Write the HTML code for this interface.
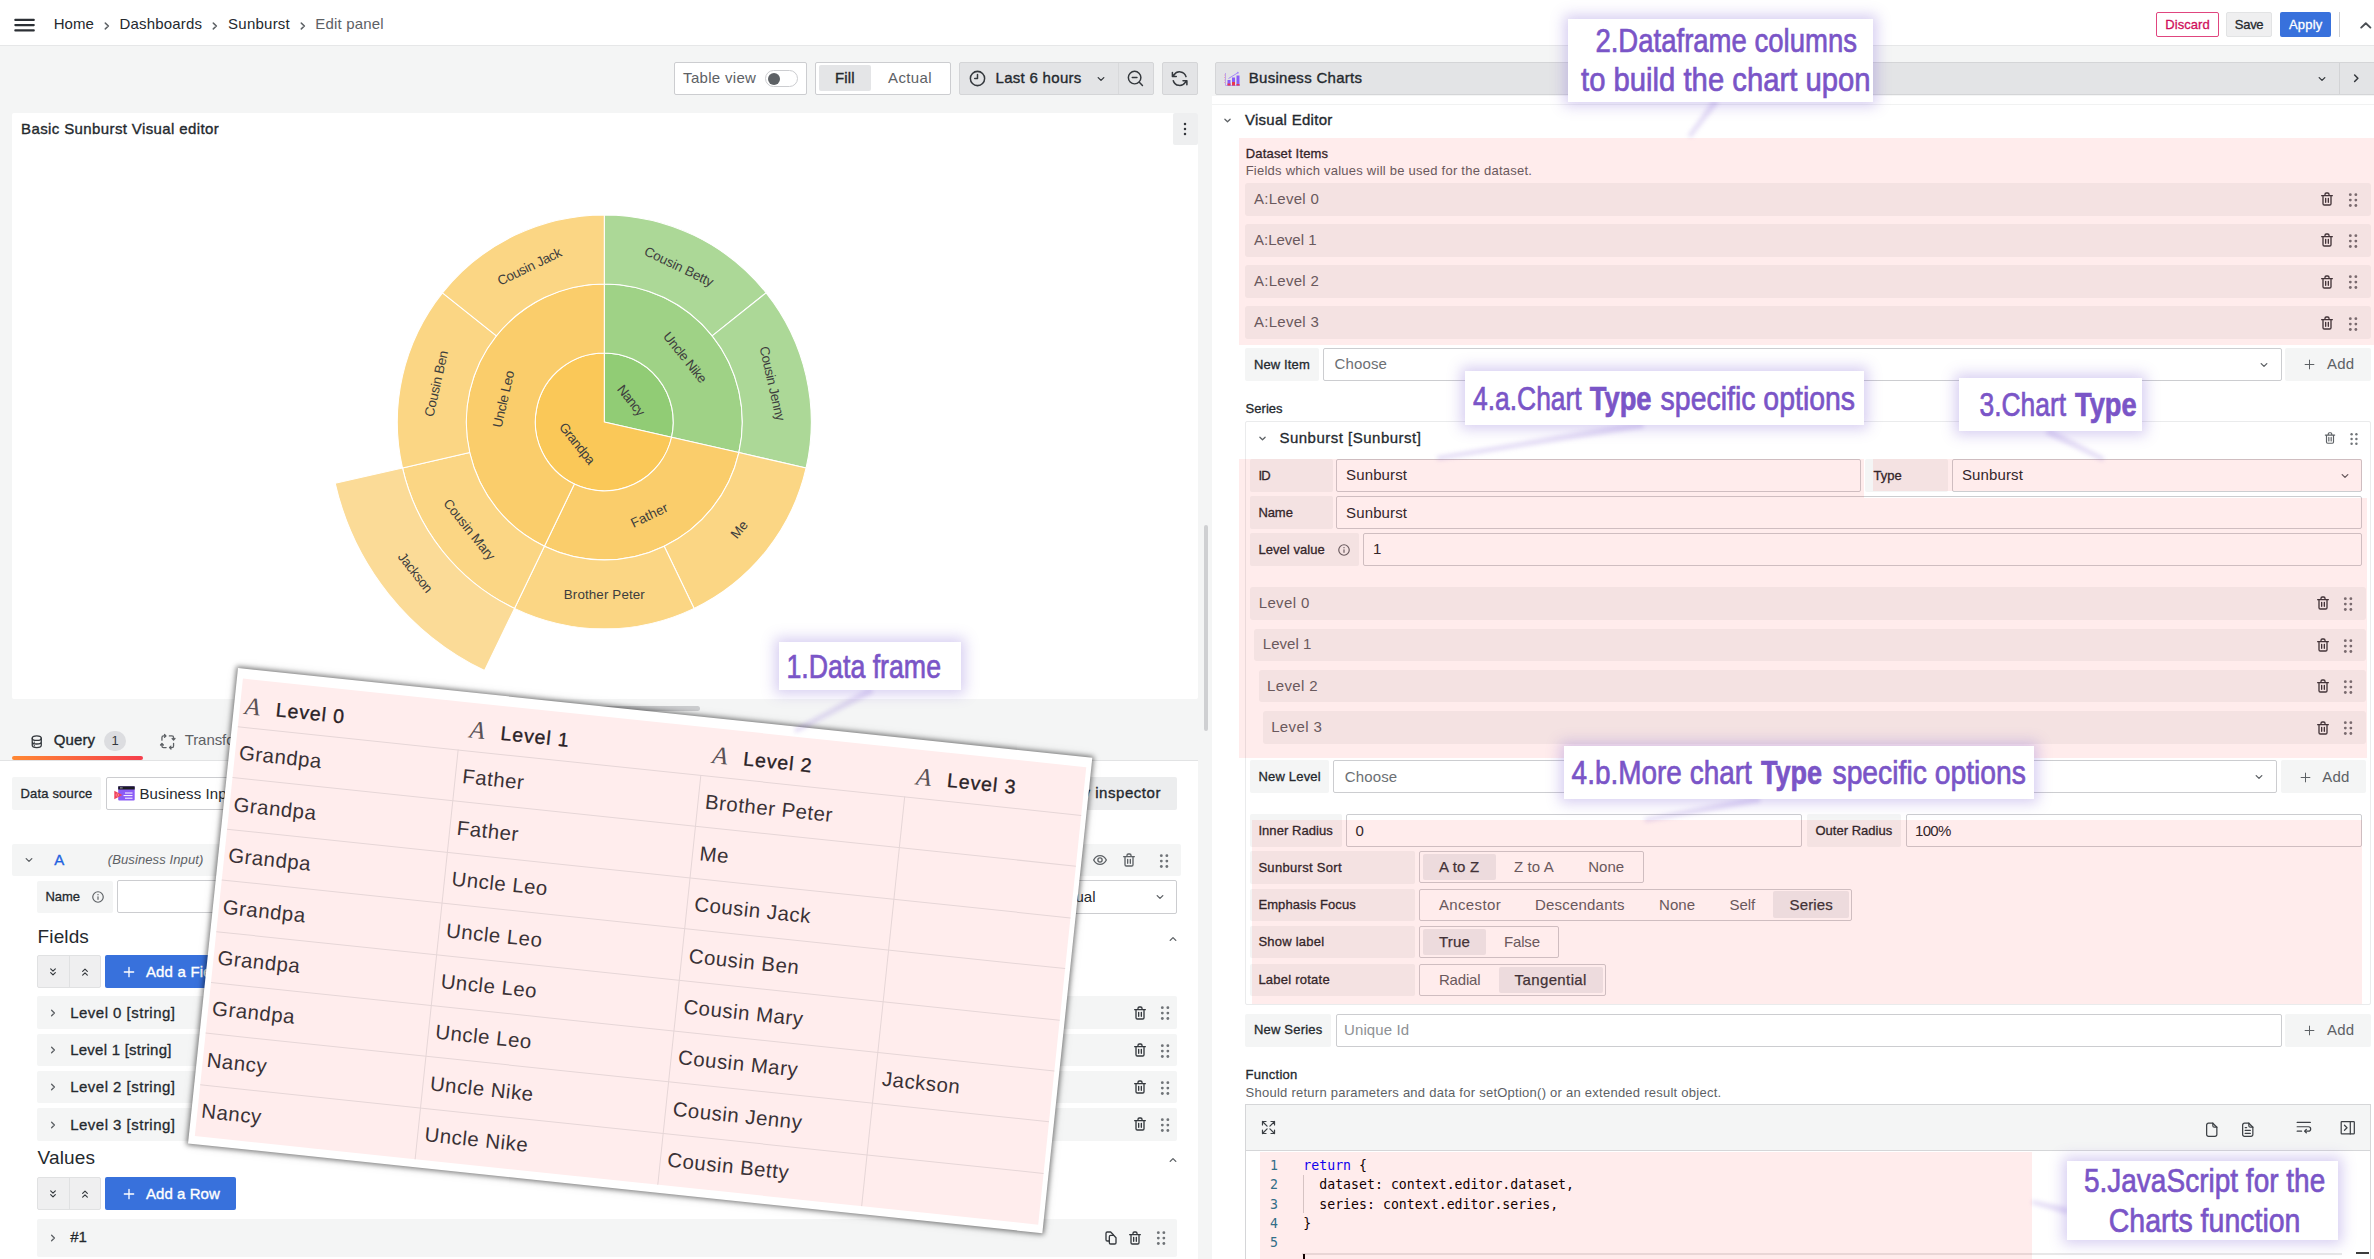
<!DOCTYPE html><html lang="en"><head><meta charset="utf-8"><title>Sunburst - Edit panel</title><style>html,body{margin:0;padding:0}
body{width:2374px;height:1259px;overflow:hidden;background:#f4f5f5;position:relative;font-family:"Liberation Sans",sans-serif;}
.b{position:absolute;box-sizing:border-box;display:block}
.t{position:absolute;white-space:nowrap;}
svg{overflow:visible}
</style></head><body>
<div class="b " style="left:0.00px;top:0.00px;width:2374.00px;height:45.00px;background:#fff;"></div>
<div class="b " style="left:0.00px;top:45.00px;width:2374.00px;height:1.00px;background:#e6e7e8;"></div>
<svg class="b" style="left:13.00px;top:17.00px;" width="22" height="16" viewBox="0 0 22 16"><path d="M2.300 2.900h18.500M2.300 8.100h18.500M2.300 13.400h18.500" stroke="#2c3035" stroke-width="2.100" stroke-linecap="round"/></svg>
<div class="t" style="left:53.70px;top:15.00px;font-size:15px;line-height:17px;color:#24292e;letter-spacing:0.047px;">Home</div>
<div class="t" style="left:119.60px;top:15.00px;font-size:15px;line-height:17px;color:#24292e;letter-spacing:0.172px;">Dashboards</div>
<div class="t" style="left:228.10px;top:15.00px;font-size:15px;line-height:17px;color:#24292e;letter-spacing:0.233px;">Sunburst</div>
<div class="t" style="left:315.30px;top:15.00px;font-size:15px;line-height:17px;color:#5d6165;letter-spacing:0.168px;">Edit panel</div>
<svg class="b" style="left:104.00px;top:22.20px;" width="6" height="8" viewBox="0 0 6 8"><path d="M1.300 1.100 4.400 4 1.300 6.900" fill="none" stroke="#5d6165" stroke-width="1.500" stroke-linecap="round" stroke-linejoin="round"/></svg>
<svg class="b" style="left:212.00px;top:22.20px;" width="6" height="8" viewBox="0 0 6 8"><path d="M1.300 1.100 4.400 4 1.300 6.900" fill="none" stroke="#5d6165" stroke-width="1.500" stroke-linecap="round" stroke-linejoin="round"/></svg>
<svg class="b" style="left:299.90px;top:22.20px;" width="6" height="8" viewBox="0 0 6 8"><path d="M1.300 1.100 4.400 4 1.300 6.900" fill="none" stroke="#5d6165" stroke-width="1.500" stroke-linecap="round" stroke-linejoin="round"/></svg>
<div class="b " style="left:2156.00px;top:12.20px;width:63.00px;height:24.40px;background:#fff;border:1px solid #e0457f;border-radius:2px;"></div>
<div class="t" style="left:2165.28px;top:17.00px;font-size:13px;line-height:15px;color:#cf0e5b;letter-spacing:0.062px;-webkit-text-stroke:0.3px #cf0e5b;">Discard</div>
<div class="b " style="left:2226.40px;top:12.20px;width:45.60px;height:24.40px;background:#efeff0;border:1px solid #e2e3e4;border-radius:2px;"></div>
<div class="t" style="left:2234.81px;top:17.00px;font-size:13px;line-height:15px;color:#24292e;letter-spacing:-0.283px;-webkit-text-stroke:0.3px #24292e;">Save</div>
<div class="b " style="left:2280.20px;top:12.20px;width:50.80px;height:24.40px;background:#3871dc;border-radius:2px;"></div>
<div class="t" style="left:2288.95px;top:17.00px;font-size:13px;line-height:15px;color:#fff;letter-spacing:0.196px;-webkit-text-stroke:0.3px #fff;">Apply</div>
<div class="b " style="left:2339.00px;top:12.20px;width:1.00px;height:24.40px;background:#cfd0d2;"></div>
<svg class="b" style="left:2358.00px;top:19.00px;" width="16" height="12" viewBox="0 0 16 12"><path d="M3.200 8.600 7.800 4.200 12.400 8.600" fill="none" stroke="#4a4e53" stroke-width="1.900" stroke-linecap="round" stroke-linejoin="round"/></svg>
<div class="b " style="left:674.20px;top:62.00px;width:132.50px;height:32.70px;background:#fff;border:1px solid #cccdd0;border-radius:2px;"></div>
<div class="t" style="left:683.10px;top:69.00px;font-size:15px;line-height:17px;color:#5d6165;letter-spacing:0.306px;">Table view</div>
<div class="b " style="left:765.40px;top:70.30px;width:33.00px;height:16.60px;background:#fff;border:1px solid #cccdd0;border-radius:9px;"></div>
<div class="b " style="left:767.60px;top:72.60px;width:12.00px;height:12.00px;background:#5d6165;border-radius:6px;"></div>
<div class="b " style="left:815.20px;top:62.00px;width:135.70px;height:32.70px;background:#fff;border:1px solid #cccdd0;border-radius:2px;"></div>
<div class="b " style="left:818.50px;top:65.30px;width:52.20px;height:26.20px;background:#e4e5e7;border-radius:2px;"></div>
<div class="t" style="left:835.05px;top:69.00px;font-size:15px;line-height:17px;color:#24292e;letter-spacing:0.110px;-webkit-text-stroke:0.35px #24292e;">Fill</div>
<div class="t" style="left:888.10px;top:69.00px;font-size:15px;line-height:17px;color:#5d6165;letter-spacing:0.335px;">Actual</div>
<div class="b " style="left:959.10px;top:62.00px;width:194.70px;height:32.70px;background:#e3e4e6;border:1px solid #d4d5d7;border-radius:2px;"></div>
<div class="b " style="left:1117.60px;top:63.00px;width:1.00px;height:30.70px;background:#d8d9db;"></div>
<svg class="b" style="left:967.70px;top:68.80px;" width="19" height="19" viewBox="0 0 24 24"><circle fill="none" stroke="#34383d" stroke-width="1.9" stroke-linecap="round" stroke-linejoin="round" cx="12" cy="12" r="9"/><path fill="none" stroke="#34383d" stroke-width="1.9" stroke-linecap="round" stroke-linejoin="round" d="M12 7v5H8.5"/></svg>
<div class="t" style="left:995.50px;top:69.00px;font-size:15px;line-height:17px;color:#24292e;letter-spacing:0.296px;-webkit-text-stroke:0.35px #24292e;">Last 6 hours</div>
<svg class="b" style="left:1092.70px;top:70.60px;" width="16" height="16" viewBox="0 0 24 24"><path fill="none" stroke="#34383d" stroke-width="2" stroke-linecap="round" stroke-linejoin="round" d="M7.8 9.9 L12 14.1 L16.2 9.9"/></svg>
<svg class="b" style="left:1125.80px;top:69.20px;" width="18.8" height="18.8" viewBox="0 0 24 24"><circle fill="none" stroke="#34383d" stroke-width="1.9" stroke-linecap="round" stroke-linejoin="round" cx="11" cy="11" r="8"/><path fill="none" stroke="#34383d" stroke-width="1.9" stroke-linecap="round" stroke-linejoin="round" d="M17 17l4 4M8 11h6"/></svg>
<div class="b " style="left:1162.00px;top:62.00px;width:36.30px;height:32.70px;background:#e3e4e6;border:1px solid #d4d5d7;border-radius:2px;"></div>
<svg class="b" style="left:1170.35px;top:68.95px;" width="19.3" height="19.3" viewBox="0 0 24 24"><path fill="none" stroke="#34383d" stroke-width="1.9" stroke-linecap="round" stroke-linejoin="round" d="M19.9 9.5A8.3 8.3 0 0 0 5 7.3L3.2 9.2M3 4.5v4.8h4.8M4.1 14.5A8.3 8.3 0 0 0 19 16.7l1.8-1.9M21 19.500v-4.8h-4.8"/></svg>
<div class="b " style="left:12.40px;top:112.60px;width:1185.40px;height:586.40px;background:#fff;border-radius:2px;"></div>
<div class="t" style="left:21.10px;top:120.00px;font-size:15px;line-height:17px;color:#24292e;letter-spacing:0.381px;-webkit-text-stroke:0.35px #24292e;">Basic Sunburst Visual editor</div>
<div class="b " style="left:1173.30px;top:112.60px;width:24.60px;height:32.00px;background:#eeeff0;border-radius:2px;"></div>
<svg class="b" style="left:1177.20px;top:121.00px;" width="16" height="16" viewBox="0 0 24 24"><circle fill="#34383d" cx="12" cy="4.5" r="1.9"/><circle fill="#34383d" cx="12" cy="12" r="1.9"/><circle fill="#34383d" cx="12" cy="19.5" r="1.9"/></svg>
<svg class="b" style="left:0;top:0" width="1200" height="700" viewBox="0 0 1200 700" font-family="Liberation Sans, sans-serif"><path d="M604.30 421.90L604.30 352.90A69 69 0 0 1 671.57 437.25Z" fill="#91cc75" stroke="#fff" stroke-width="1.050" stroke-linejoin="round"/><path d="M604.30 283.90A138 138 0 0 1 738.84 452.61L671.57 437.25A69 69 0 0 0 604.30 352.90Z" fill="#9fd286" stroke="#fff" stroke-width="1.050" stroke-linejoin="round"/><path d="M604.30 214.90A207 207 0 0 1 766.14 292.84L712.19 335.86A138 138 0 0 0 604.30 283.90Z" fill="#acd897" stroke="#fff" stroke-width="1.050" stroke-linejoin="round"/><path d="M766.14 292.84A207 207 0 0 1 806.11 467.96L738.84 452.61A138 138 0 0 0 712.19 335.86Z" fill="#acd897" stroke="#fff" stroke-width="1.050" stroke-linejoin="round"/><path d="M604.30 421.90L671.57 437.25A69 69 0 1 1 604.30 352.90Z" fill="#fac858" stroke="#fff" stroke-width="1.050" stroke-linejoin="round"/><path d="M738.84 452.61A138 138 0 0 1 544.42 546.23L574.36 484.07A69 69 0 0 0 671.57 437.25Z" fill="#facd6b" stroke="#fff" stroke-width="1.050" stroke-linejoin="round"/><path d="M806.11 467.96A207 207 0 0 1 694.11 608.40L664.18 546.23A138 138 0 0 0 738.84 452.61Z" fill="#fbd684" stroke="#fff" stroke-width="1.050" stroke-linejoin="round"/><path d="M694.11 608.40A207 207 0 0 1 514.49 608.40L544.42 546.23A138 138 0 0 0 664.18 546.23Z" fill="#fbd684" stroke="#fff" stroke-width="1.050" stroke-linejoin="round"/><path d="M544.42 546.23A138 138 0 0 1 604.30 283.90L604.30 352.90A69 69 0 0 0 574.36 484.07Z" fill="#facd6b" stroke="#fff" stroke-width="1.050" stroke-linejoin="round"/><path d="M514.49 608.40A207 207 0 0 1 402.49 467.96L469.76 452.61A138 138 0 0 0 544.42 546.23Z" fill="#fbd684" stroke="#fff" stroke-width="1.050" stroke-linejoin="round"/><path d="M484.55 670.57A276 276 0 0 1 335.22 483.32L402.49 467.96A207 207 0 0 0 514.49 608.40Z" fill="#fbdb97" stroke="#fff" stroke-width="1.050" stroke-linejoin="round"/><path d="M402.49 467.96A207 207 0 0 1 442.46 292.84L496.41 335.86A138 138 0 0 0 469.76 452.61Z" fill="#fbd684" stroke="#fff" stroke-width="1.050" stroke-linejoin="round"/><path d="M442.46 292.84A207 207 0 0 1 604.30 214.90L604.30 283.90A138 138 0 0 0 496.41 335.86Z" fill="#fbd684" stroke="#fff" stroke-width="1.050" stroke-linejoin="round"/><text x="631.27" y="400.39" transform="rotate(51.43 631.27 400.39)" text-anchor="middle" dy="0.350em" font-size="13.4" fill="#3d3d3d" textLength="35.5" lengthAdjust="spacing">Nancy</text><text x="685.22" y="357.37" transform="rotate(51.43 685.22 357.37)" text-anchor="middle" dy="0.350em" font-size="13.4" fill="#3d3d3d" textLength="61" lengthAdjust="spacing">Uncle Nike</text><text x="679.14" y="266.48" transform="rotate(25.71 679.14 266.48)" text-anchor="middle" dy="0.350em" font-size="13.4" fill="#3d3d3d" textLength="75" lengthAdjust="spacing">Cousin Betty</text><text x="772.48" y="383.52" transform="rotate(77.14 772.48 383.52)" text-anchor="middle" dy="0.350em" font-size="13.4" fill="#3d3d3d" textLength="76" lengthAdjust="spacing">Cousin Jenny</text><text x="577.33" y="443.41" transform="rotate(51.43 577.33 443.41)" text-anchor="middle" dy="0.350em" font-size="13.4" fill="#3d3d3d" textLength="49" lengthAdjust="spacing">Grandpa</text><text x="649.21" y="515.15" transform="rotate(-25.71 649.21 515.15)" text-anchor="middle" dy="0.350em" font-size="13.4" fill="#3d3d3d" textLength="39.5" lengthAdjust="spacing">Father</text><text x="739.17" y="529.45" transform="rotate(-51.43 739.17 529.45)" text-anchor="middle" dy="0.350em" font-size="13.4" fill="#3d3d3d" textLength="18.5" lengthAdjust="spacing">Me</text><text x="604.30" y="594.40" transform="rotate(0.00 604.30 594.40)" text-anchor="middle" dy="0.350em" font-size="13.4" fill="#3d3d3d" textLength="81" lengthAdjust="spacing">Brother Peter</text><text x="503.39" y="398.87" transform="rotate(-77.14 503.39 398.87)" text-anchor="middle" dy="0.350em" font-size="13.4" fill="#3d3d3d" textLength="58" lengthAdjust="spacing">Uncle Leo</text><text x="469.43" y="529.45" transform="rotate(51.43 469.43 529.45)" text-anchor="middle" dy="0.350em" font-size="13.4" fill="#3d3d3d" textLength="74" lengthAdjust="spacing">Cousin Mary</text><text x="415.49" y="572.47" transform="rotate(51.43 415.49 572.47)" text-anchor="middle" dy="0.350em" font-size="13.4" fill="#3d3d3d" textLength="47" lengthAdjust="spacing">Jackson</text><text x="436.12" y="383.52" transform="rotate(-77.14 436.12 383.52)" text-anchor="middle" dy="0.350em" font-size="13.4" fill="#3d3d3d" textLength="67.5" lengthAdjust="spacing">Cousin Ben</text><text x="529.46" y="266.48" transform="rotate(-25.71 529.46 266.48)" text-anchor="middle" dy="0.350em" font-size="13.4" fill="#3d3d3d" textLength="69.5" lengthAdjust="spacing">Cousin Jack</text></svg>
<div class="b " style="left:1203.60px;top:525.00px;width:4.20px;height:206.00px;background:#cfd0d2;border-radius:2px;"></div>
<div class="b " style="left:500.00px;top:705.80px;width:200.00px;height:4.80px;background:#cccdcf;border-radius:2.5px;"></div>
<div class="b " style="left:0.00px;top:761.00px;width:1197.60px;height:498.00px;background:#fff;"></div>
<div class="b " style="left:0.00px;top:760.30px;width:1197.60px;height:1.00px;background:#e2e3e4;"></div>
<svg class="b" style="left:29.25px;top:733.65px;" width="15.5" height="15.5" viewBox="0 0 24 24"><ellipse fill="none" stroke="#34383d" stroke-width="2" stroke-linecap="round" stroke-linejoin="round" cx="12" cy="6.5" rx="7" ry="3.5"/><path fill="none" stroke="#34383d" stroke-width="2" stroke-linecap="round" stroke-linejoin="round" d="M5 6.500v11c0 1.900 3.100 3.500 7 3.500s7-1.600 7-3.500v-11M5 12c0 1.900 3.100 3.500 7 3.500s7-1.600 7-3.500"/><path fill="none" stroke="#34383d" stroke-width="2" stroke-linecap="round" stroke-linejoin="round" d="M8.2 12.6v.1M8.200 18.100v.100"/></svg>
<div class="t" style="left:53.80px;top:731.00px;font-size:15px;line-height:17px;color:#24292e;letter-spacing:0.110px;-webkit-text-stroke:0.35px #24292e;">Query</div>
<div class="b " style="left:104.30px;top:731.30px;width:21.30px;height:19.40px;background:#dcdde0;border-radius:10px;"></div>
<div class="t" style="left:111.38px;top:733.00px;font-size:13px;line-height:15px;color:#34383d;">1</div>
<div class="b" style="left:12.1px;top:755.8px;width:130.5px;height:4.3px;border-radius:2.2px;background:linear-gradient(90deg,#ff8833,#f53e4c);"></div>
<svg class="b" style="left:159.55px;top:733.85px;" width="15.5" height="15.5" viewBox="0 0 24 24"><path fill="none" stroke="#5d6165" stroke-width="2" stroke-linecap="round" stroke-linejoin="round" d="M3 9.500V5.500Q3 3 5.500 3H9M7 .800 9.200 3 7 5.200M14.500 3h4Q21 3 21 5.500V9M18.800 7 21 9.200 23.200 7M21 14.500v4Q21 21 18.500 21H15M17 18.800 14.800 21 17 23.200M9.500 21h-4Q3 21 3 18.500V15M.800 17 3 14.800 5.200 17"/></svg>
<div class="t" style="left:184.70px;top:731.00px;font-size:15px;line-height:17px;color:#5d6165;letter-spacing:-0.082px;">Transform data</div>
<div class="b " style="left:12.10px;top:777.30px;width:88.70px;height:32.50px;background:#f4f5f5;border-radius:2px;"></div>
<div class="t" style="left:20.50px;top:786.00px;font-size:13px;line-height:15px;color:#24292e;letter-spacing:0.173px;-webkit-text-stroke:0.3px #24292e;">Data source</div>
<div class="b " style="left:105.70px;top:777.30px;width:290.00px;height:32.50px;background:#fff;border:1px solid #cccdd0;border-radius:2px;"></div>
<svg class="b" style="left:113.500px;top:786.400px" width="21" height="15" viewBox="0 0 21 15"><rect x="4.200" y="0.300" width="16.500" height="14.200" rx="1" fill="#8b5cf6"/><rect x="4.200" y="0.300" width="16.500" height="3.200" fill="#1c1c24"/><path d="M6 1.900h3" stroke="#fff" stroke-width=".8" stroke-dasharray=".8 .5"/><path d="M11 7h7.500M9.500 9.600h9M11 12.200h7.500" stroke="#fff" stroke-width="1"/><path d="M0.300 4.800 8.300 8.900 0.300 13.300Z" fill="#f0415a"/><circle cx="3.300" cy="9" r="1.300" fill="none" stroke="#ffb3bf" stroke-width=".5"/></svg>
<div class="t" style="left:139.50px;top:785.00px;font-size:15px;line-height:17px;color:#24292e;letter-spacing:0.115px;">Business Input</div>
<div class="b " style="left:1016.00px;top:777.30px;width:160.60px;height:32.50px;background:#ecedee;border-radius:2px;"></div>
<div class="t" style="left:1046.94px;top:784.00px;font-size:15px;line-height:17px;color:#24292e;letter-spacing:0.541px;-webkit-text-stroke:0.35px #24292e;">Query inspector</div>
<div class="b " style="left:12.10px;top:843.90px;width:1169.00px;height:32.00px;background:#f4f5f5;border-radius:2px;"></div>
<svg class="b" style="left:20.80px;top:851.90px;" width="16" height="16" viewBox="0 0 24 24"><path fill="none" stroke="#5d6165" stroke-width="2" stroke-linecap="round" stroke-linejoin="round" d="M7.8 9.9 L12 14.1 L16.2 9.9"/></svg>
<div class="t" style="left:54.30px;top:851.00px;font-size:15px;line-height:17px;color:#1f62e0;-webkit-text-stroke:0.35px #1f62e0;">A</div>
<div class="t" style="left:107.70px;top:852.00px;font-size:13px;line-height:15px;color:#5d6165;letter-spacing:0.117px;font-style:italic;">(Business Input)</div>
<svg class="b" style="left:1092.40px;top:851.80px;" width="16" height="16" viewBox="0 0 24 24"><path fill="none" stroke="#5d6165" stroke-width="2" stroke-linecap="round" stroke-linejoin="round" d="M2.500 12C4.500 8 8 5.500 12 5.500S19.500 8 21.500 12c-2 4-5.500 6.500-9.500 6.500S4.500 16 2.500 12Z"/><circle fill="none" stroke="#5d6165" stroke-width="2" stroke-linecap="round" stroke-linejoin="round" cx="12" cy="12" r="3.2"/></svg>
<svg class="b" style="left:1121.30px;top:851.80px;" width="16" height="16" viewBox="0 0 24 24"><path fill="#5d6165" d="M10,18a1,1,0,0,0,1-1V11a1,1,0,0,0-2,0v6A1,1,0,0,0,10,18ZM20,6H16V5a3,3,0,0,0-3-3H11A3,3,0,0,0,8,5V6H4A1,1,0,0,0,4,8H5V19a3,3,0,0,0,3,3h8a3,3,0,0,0,3-3V8h1a1,1,0,0,0,0-2ZM10,5a1,1,0,0,1,1-1h2a1,1,0,0,1,1,1V6H10Zm7,14a1,1,0,0,1-1,1H8a1,1,0,0,1-1-1V8H17Zm-3-1a1,1,0,0,0,1-1V11a1,1,0,0,0-2,0v6A1,1,0,0,0,14,18Z"/></svg>
<svg class="b" style="left:1155.80px;top:852.90px;" width="16.2" height="16.2" viewBox="0 0 24 24"><circle fill="#6f7377" cx="7.9" cy="4" r="2.1"/><circle fill="#6f7377" cx="7.9" cy="12" r="2.1"/><circle fill="#6f7377" cx="7.9" cy="20" r="2.1"/><circle fill="#6f7377" cx="16.1" cy="4" r="2.1"/><circle fill="#6f7377" cx="16.1" cy="12" r="2.1"/><circle fill="#6f7377" cx="16.1" cy="20" r="2.1"/></svg>
<div class="b " style="left:37.20px;top:880.60px;width:75.80px;height:32.60px;background:#f4f5f5;border-radius:2px;"></div>
<div class="t" style="left:45.50px;top:889.00px;font-size:13px;line-height:15px;color:#24292e;letter-spacing:-0.070px;-webkit-text-stroke:0.3px #24292e;">Name</div>
<svg class="b" style="left:90.80px;top:890.30px;" width="14" height="14" viewBox="0 0 24 24"><circle fill="none" stroke="#5d6165" stroke-width="2" stroke-linecap="round" stroke-linejoin="round" cx="12" cy="12" r="9"/><path fill="none" stroke="#5d6165" stroke-width="2" stroke-linecap="round" stroke-linejoin="round" d="M12 11.500v4.500"/><circle fill="#5d6165" cx="12" cy="8" r="1.200"/></svg>
<div class="b " style="left:117.20px;top:880.40px;width:400.00px;height:33.00px;background:#fff;border:1px solid #cccdd0;border-radius:2px;"></div>
<div class="b " style="left:900.00px;top:880.20px;width:276.60px;height:33.50px;background:#fff;border:1px solid #cccdd0;border-radius:2px;"></div>
<div class="t" style="left:1046.30px;top:888.00px;font-size:15px;line-height:17px;color:#24292e;">Manual</div>
<svg class="b" style="left:1152.40px;top:889.30px;" width="16" height="16" viewBox="0 0 24 24"><path fill="none" stroke="#5d6165" stroke-width="2" stroke-linecap="round" stroke-linejoin="round" d="M7.8 9.9 L12 14.1 L16.2 9.9"/></svg>
<div class="t" style="left:37.60px;top:926.00px;font-size:19px;line-height:21px;color:#24292e;letter-spacing:0.119px;">Fields</div>
<svg class="b" style="left:1164.50px;top:930.70px;" width="16" height="16" viewBox="0 0 24 24"><path fill="none" stroke="#5d6165" stroke-width="2" stroke-linecap="round" stroke-linejoin="round" d="M7.8 14.1 L12 9.9 L16.2 14.1"/></svg>
<div class="b " style="left:37.20px;top:955.20px;width:63.60px;height:32.50px;background:#efeff0;border:1px solid #e0e1e2;border-radius:2px;"></div>
<div class="b " style="left:69.20px;top:955.20px;width:1.00px;height:32.50px;background:#e0e1e2;"></div>
<svg class="b" style="left:46.40px;top:964.60px;" width="14" height="14" viewBox="0 0 24 24"><path fill="none" stroke="#34383d" stroke-width="2" stroke-linecap="round" stroke-linejoin="round" d="M8 6.500l4 4 4-4M8 13l4 4 4-4"/></svg>
<svg class="b" style="left:77.50px;top:964.60px;" width="14" height="14" viewBox="0 0 24 24"><path fill="none" stroke="#34383d" stroke-width="2" stroke-linecap="round" stroke-linejoin="round" d="M8 11l4-4 4 4M8 17.500l4-4 4 4"/></svg>
<div class="b " style="left:105.10px;top:955.20px;width:131.20px;height:32.50px;background:#3871dc;border-radius:2px;"></div>
<svg class="b" style="left:120.60px;top:963.50px;" width="16" height="16" viewBox="0 0 24 24"><path fill="none" stroke="#fff" stroke-width="2" stroke-linecap="round" stroke-linejoin="round" d="M12 5v14M5 12h14"/></svg>
<div class="t" style="left:145.90px;top:963.00px;font-size:15px;line-height:17px;color:#fff;letter-spacing:0.193px;-webkit-text-stroke:0.35px #fff;">Add a Field</div>
<div class="b " style="left:37.20px;top:996.30px;width:1139.50px;height:32.60px;background:#f4f5f5;border-radius:2px;"></div>
<svg class="b" style="left:45.20px;top:1004.90px;" width="16" height="16" viewBox="0 0 24 24"><path fill="none" stroke="#5d6165" stroke-width="2" stroke-linecap="round" stroke-linejoin="round" d="M9.9 7.8 L14.1 12 L9.9 16.2"/></svg>
<div class="t" style="left:70.20px;top:1004.00px;font-size:15px;line-height:17px;color:#24292e;letter-spacing:0.484px;-webkit-text-stroke:0.3px #24292e;">Level 0 [string]</div>
<svg class="b" style="left:1132.10px;top:1004.70px;" width="16" height="16" viewBox="0 0 24 24"><path fill="#34383d" d="M10,18a1,1,0,0,0,1-1V11a1,1,0,0,0-2,0v6A1,1,0,0,0,10,18ZM20,6H16V5a3,3,0,0,0-3-3H11A3,3,0,0,0,8,5V6H4A1,1,0,0,0,4,8H5V19a3,3,0,0,0,3,3h8a3,3,0,0,0,3-3V8h1a1,1,0,0,0,0-2ZM10,5a1,1,0,0,1,1-1h2a1,1,0,0,1,1,1V6H10Zm7,14a1,1,0,0,1-1,1H8a1,1,0,0,1-1-1V8H17Zm-3-1a1,1,0,0,0,1-1V11a1,1,0,0,0-2,0v6A1,1,0,0,0,14,18Z"/></svg>
<svg class="b" style="left:1156.50px;top:1005.30px;" width="16.2" height="16.2" viewBox="0 0 24 24"><circle fill="#6f7377" cx="7.9" cy="4" r="2.1"/><circle fill="#6f7377" cx="7.9" cy="12" r="2.1"/><circle fill="#6f7377" cx="7.9" cy="20" r="2.1"/><circle fill="#6f7377" cx="16.1" cy="4" r="2.1"/><circle fill="#6f7377" cx="16.1" cy="12" r="2.1"/><circle fill="#6f7377" cx="16.1" cy="20" r="2.1"/></svg>
<div class="b " style="left:37.20px;top:1033.53px;width:1139.50px;height:32.60px;background:#f4f5f5;border-radius:2px;"></div>
<svg class="b" style="left:45.20px;top:1042.13px;" width="16" height="16" viewBox="0 0 24 24"><path fill="none" stroke="#5d6165" stroke-width="2" stroke-linecap="round" stroke-linejoin="round" d="M9.9 7.8 L14.1 12 L9.9 16.2"/></svg>
<div class="t" style="left:70.20px;top:1041.00px;font-size:15px;line-height:17px;color:#24292e;letter-spacing:0.247px;-webkit-text-stroke:0.3px #24292e;">Level 1 [string]</div>
<svg class="b" style="left:1132.10px;top:1041.93px;" width="16" height="16" viewBox="0 0 24 24"><path fill="#34383d" d="M10,18a1,1,0,0,0,1-1V11a1,1,0,0,0-2,0v6A1,1,0,0,0,10,18ZM20,6H16V5a3,3,0,0,0-3-3H11A3,3,0,0,0,8,5V6H4A1,1,0,0,0,4,8H5V19a3,3,0,0,0,3,3h8a3,3,0,0,0,3-3V8h1a1,1,0,0,0,0-2ZM10,5a1,1,0,0,1,1-1h2a1,1,0,0,1,1,1V6H10Zm7,14a1,1,0,0,1-1,1H8a1,1,0,0,1-1-1V8H17Zm-3-1a1,1,0,0,0,1-1V11a1,1,0,0,0-2,0v6A1,1,0,0,0,14,18Z"/></svg>
<svg class="b" style="left:1156.50px;top:1042.53px;" width="16.2" height="16.2" viewBox="0 0 24 24"><circle fill="#6f7377" cx="7.9" cy="4" r="2.1"/><circle fill="#6f7377" cx="7.9" cy="12" r="2.1"/><circle fill="#6f7377" cx="7.9" cy="20" r="2.1"/><circle fill="#6f7377" cx="16.1" cy="4" r="2.1"/><circle fill="#6f7377" cx="16.1" cy="12" r="2.1"/><circle fill="#6f7377" cx="16.1" cy="20" r="2.1"/></svg>
<div class="b " style="left:37.20px;top:1070.76px;width:1139.50px;height:32.60px;background:#f4f5f5;border-radius:2px;"></div>
<svg class="b" style="left:45.20px;top:1079.36px;" width="16" height="16" viewBox="0 0 24 24"><path fill="none" stroke="#5d6165" stroke-width="2" stroke-linecap="round" stroke-linejoin="round" d="M9.9 7.8 L14.1 12 L9.9 16.2"/></svg>
<div class="t" style="left:70.20px;top:1078.00px;font-size:15px;line-height:17px;color:#24292e;letter-spacing:0.484px;-webkit-text-stroke:0.3px #24292e;">Level 2 [string]</div>
<svg class="b" style="left:1132.10px;top:1079.16px;" width="16" height="16" viewBox="0 0 24 24"><path fill="#34383d" d="M10,18a1,1,0,0,0,1-1V11a1,1,0,0,0-2,0v6A1,1,0,0,0,10,18ZM20,6H16V5a3,3,0,0,0-3-3H11A3,3,0,0,0,8,5V6H4A1,1,0,0,0,4,8H5V19a3,3,0,0,0,3,3h8a3,3,0,0,0,3-3V8h1a1,1,0,0,0,0-2ZM10,5a1,1,0,0,1,1-1h2a1,1,0,0,1,1,1V6H10Zm7,14a1,1,0,0,1-1,1H8a1,1,0,0,1-1-1V8H17Zm-3-1a1,1,0,0,0,1-1V11a1,1,0,0,0-2,0v6A1,1,0,0,0,14,18Z"/></svg>
<svg class="b" style="left:1156.50px;top:1079.76px;" width="16.2" height="16.2" viewBox="0 0 24 24"><circle fill="#6f7377" cx="7.9" cy="4" r="2.1"/><circle fill="#6f7377" cx="7.9" cy="12" r="2.1"/><circle fill="#6f7377" cx="7.9" cy="20" r="2.1"/><circle fill="#6f7377" cx="16.1" cy="4" r="2.1"/><circle fill="#6f7377" cx="16.1" cy="12" r="2.1"/><circle fill="#6f7377" cx="16.1" cy="20" r="2.1"/></svg>
<div class="b " style="left:37.20px;top:1107.99px;width:1139.50px;height:32.60px;background:#f4f5f5;border-radius:2px;"></div>
<svg class="b" style="left:45.20px;top:1116.59px;" width="16" height="16" viewBox="0 0 24 24"><path fill="none" stroke="#5d6165" stroke-width="2" stroke-linecap="round" stroke-linejoin="round" d="M9.9 7.8 L14.1 12 L9.9 16.2"/></svg>
<div class="t" style="left:70.20px;top:1116.00px;font-size:15px;line-height:17px;color:#24292e;letter-spacing:0.484px;-webkit-text-stroke:0.3px #24292e;">Level 3 [string]</div>
<svg class="b" style="left:1132.10px;top:1116.39px;" width="16" height="16" viewBox="0 0 24 24"><path fill="#34383d" d="M10,18a1,1,0,0,0,1-1V11a1,1,0,0,0-2,0v6A1,1,0,0,0,10,18ZM20,6H16V5a3,3,0,0,0-3-3H11A3,3,0,0,0,8,5V6H4A1,1,0,0,0,4,8H5V19a3,3,0,0,0,3,3h8a3,3,0,0,0,3-3V8h1a1,1,0,0,0,0-2ZM10,5a1,1,0,0,1,1-1h2a1,1,0,0,1,1,1V6H10Zm7,14a1,1,0,0,1-1,1H8a1,1,0,0,1-1-1V8H17Zm-3-1a1,1,0,0,0,1-1V11a1,1,0,0,0-2,0v6A1,1,0,0,0,14,18Z"/></svg>
<svg class="b" style="left:1156.50px;top:1116.99px;" width="16.2" height="16.2" viewBox="0 0 24 24"><circle fill="#6f7377" cx="7.9" cy="4" r="2.1"/><circle fill="#6f7377" cx="7.9" cy="12" r="2.1"/><circle fill="#6f7377" cx="7.9" cy="20" r="2.1"/><circle fill="#6f7377" cx="16.1" cy="4" r="2.1"/><circle fill="#6f7377" cx="16.1" cy="12" r="2.1"/><circle fill="#6f7377" cx="16.1" cy="20" r="2.1"/></svg>
<div class="t" style="left:37.60px;top:1147.00px;font-size:19px;line-height:21px;color:#24292e;letter-spacing:0.152px;">Values</div>
<svg class="b" style="left:1164.50px;top:1152.20px;" width="16" height="16" viewBox="0 0 24 24"><path fill="none" stroke="#5d6165" stroke-width="2" stroke-linecap="round" stroke-linejoin="round" d="M7.8 14.1 L12 9.9 L16.2 14.1"/></svg>
<div class="b " style="left:37.20px;top:1177.30px;width:63.60px;height:32.50px;background:#efeff0;border:1px solid #e0e1e2;border-radius:2px;"></div>
<div class="b " style="left:69.20px;top:1177.30px;width:1.00px;height:32.50px;background:#e0e1e2;"></div>
<svg class="b" style="left:46.40px;top:1186.70px;" width="14" height="14" viewBox="0 0 24 24"><path fill="none" stroke="#34383d" stroke-width="2" stroke-linecap="round" stroke-linejoin="round" d="M8 6.500l4 4 4-4M8 13l4 4 4-4"/></svg>
<svg class="b" style="left:77.50px;top:1186.70px;" width="14" height="14" viewBox="0 0 24 24"><path fill="none" stroke="#34383d" stroke-width="2" stroke-linecap="round" stroke-linejoin="round" d="M8 11l4-4 4 4M8 17.500l4-4 4 4"/></svg>
<div class="b " style="left:105.10px;top:1177.30px;width:131.20px;height:32.50px;background:#3871dc;border-radius:2px;"></div>
<svg class="b" style="left:120.60px;top:1185.60px;" width="16" height="16" viewBox="0 0 24 24"><path fill="none" stroke="#fff" stroke-width="2" stroke-linecap="round" stroke-linejoin="round" d="M12 5v14M5 12h14"/></svg>
<div class="t" style="left:145.90px;top:1185.00px;font-size:15px;line-height:17px;color:#fff;letter-spacing:0.069px;-webkit-text-stroke:0.35px #fff;">Add a Row</div>
<div class="b " style="left:37.20px;top:1218.70px;width:1139.50px;height:38.50px;background:#f4f5f5;border-radius:2px;"></div>
<svg class="b" style="left:45.20px;top:1230.00px;" width="16" height="16" viewBox="0 0 24 24"><path fill="none" stroke="#5d6165" stroke-width="2" stroke-linecap="round" stroke-linejoin="round" d="M9.9 7.8 L14.1 12 L9.9 16.2"/></svg>
<div class="t" style="left:70.20px;top:1228.00px;font-size:15px;line-height:17px;color:#24292e;-webkit-text-stroke:0.3px #24292e;">#1</div>
<svg class="b" style="left:1102.60px;top:1229.70px;" width="16" height="16" viewBox="0 0 24 24"><path fill="none" stroke="#34383d" stroke-width="2" stroke-linecap="round" stroke-linejoin="round" d="M9 16.500H6.500a2 2 0 0 1-2-2V5a2 2 0 0 1 2-2h5l4 4v1"/><path fill="none" stroke="#34383d" stroke-width="2" stroke-linecap="round" stroke-linejoin="round" d="M11.500 8h4.500l3.500 3.500V19a2 2 0 0 1-2 2h-6a2 2 0 0 1-2-2v-9a2 2 0 0 1 2-2Z"/></svg>
<svg class="b" style="left:1127.40px;top:1229.70px;" width="16" height="16" viewBox="0 0 24 24"><path fill="#34383d" d="M10,18a1,1,0,0,0,1-1V11a1,1,0,0,0-2,0v6A1,1,0,0,0,10,18ZM20,6H16V5a3,3,0,0,0-3-3H11A3,3,0,0,0,8,5V6H4A1,1,0,0,0,4,8H5V19a3,3,0,0,0,3,3h8a3,3,0,0,0,3-3V8h1a1,1,0,0,0,0-2ZM10,5a1,1,0,0,1,1-1h2a1,1,0,0,1,1,1V6H10Zm7,14a1,1,0,0,1-1,1H8a1,1,0,0,1-1-1V8H17Zm-3-1a1,1,0,0,0,1-1V11a1,1,0,0,0-2,0v6A1,1,0,0,0,14,18Z"/></svg>
<svg class="b" style="left:1152.60px;top:1230.30px;" width="16.2" height="16.2" viewBox="0 0 24 24"><circle fill="#6f7377" cx="7.9" cy="4" r="2.1"/><circle fill="#6f7377" cx="7.9" cy="12" r="2.1"/><circle fill="#6f7377" cx="7.9" cy="20" r="2.1"/><circle fill="#6f7377" cx="16.1" cy="4" r="2.1"/><circle fill="#6f7377" cx="16.1" cy="12" r="2.1"/><circle fill="#6f7377" cx="16.1" cy="20" r="2.1"/></svg>
<div class="b" style="left:238.1px;top:668.4px;width:858.5px;height:477.5px;background:#fff;transform-origin:0 0;transform:rotate(6deg);box-shadow:0 0 5px 1.500px rgba(0,0,0,.48),0 0 12px rgba(0,0,0,.12);">
<div class="b" style="left:5.500px;top:10.300px;width:848.0px;height:459.7px;background:#ffeded;">
<div class="b" style="left:0;top:47.65px;width:848.0px;height:1px;background:#e6d6d7;"></div>
<div class="b" style="left:0;top:99.07px;width:848.0px;height:1px;background:#e6d6d7;"></div>
<div class="b" style="left:0;top:150.49px;width:848.0px;height:1px;background:#e6d6d7;"></div>
<div class="b" style="left:0;top:201.91px;width:848.0px;height:1px;background:#e6d6d7;"></div>
<div class="b" style="left:0;top:253.33px;width:848.0px;height:1px;background:#e6d6d7;"></div>
<div class="b" style="left:0;top:304.75px;width:848.0px;height:1px;background:#e6d6d7;"></div>
<div class="b" style="left:0;top:356.17px;width:848.0px;height:1px;background:#e6d6d7;"></div>
<div class="b" style="left:0;top:407.59px;width:848.0px;height:1px;background:#e6d6d7;"></div>
<div class="b" style="left:221.00px;top:47.65px;width:1px;height:412.05px;background:#e6d6d7;"></div>
<div class="b" style="left:465.10px;top:47.65px;width:1px;height:412.05px;background:#e6d6d7;"></div>
<div class="b" style="left:670.00px;top:47.65px;width:1px;height:412.05px;background:#e6d6d7;"></div>
<div class="t" style="left:5.50px;top:12.30px;font-family:'Liberation Serif',serif;font-style:italic;font-size:25px;line-height:27px;color:#5a5256;">A</div>
<div class="t" style="left:36.50px;top:15.90px;font-size:19.500px;line-height:22px;color:#2a2226;-webkit-text-stroke:0.350px #2a2226;letter-spacing:0.950px;">Level 0</div>
<div class="t" style="left:231.50px;top:12.30px;font-family:'Liberation Serif',serif;font-style:italic;font-size:25px;line-height:27px;color:#5a5256;">A</div>
<div class="t" style="left:262.50px;top:15.90px;font-size:19.500px;line-height:22px;color:#2a2226;-webkit-text-stroke:0.350px #2a2226;letter-spacing:0.950px;">Level 1</div>
<div class="t" style="left:475.60px;top:12.30px;font-family:'Liberation Serif',serif;font-style:italic;font-size:25px;line-height:27px;color:#5a5256;">A</div>
<div class="t" style="left:506.60px;top:15.90px;font-size:19.500px;line-height:22px;color:#2a2226;-webkit-text-stroke:0.350px #2a2226;letter-spacing:0.950px;">Level 2</div>
<div class="t" style="left:680.50px;top:12.30px;font-family:'Liberation Serif',serif;font-style:italic;font-size:25px;line-height:27px;color:#5a5256;">A</div>
<div class="t" style="left:711.50px;top:15.90px;font-size:19.500px;line-height:22px;color:#2a2226;-webkit-text-stroke:0.350px #2a2226;letter-spacing:0.950px;">Level 3</div>
<div class="t" style="left:4.50px;top:62.95px;font-size:20.400px;line-height:22px;color:#3a3236;letter-spacing:0.550px;">Grandpa</div>
<div class="t" style="left:229.00px;top:62.95px;font-size:20.400px;line-height:22px;color:#3a3236;letter-spacing:0.550px;">Father</div>
<div class="t" style="left:473.10px;top:62.95px;font-size:20.400px;line-height:22px;color:#3a3236;letter-spacing:0.550px;">Brother Peter</div>
<div class="t" style="left:4.50px;top:114.37px;font-size:20.400px;line-height:22px;color:#3a3236;letter-spacing:0.550px;">Grandpa</div>
<div class="t" style="left:229.00px;top:114.37px;font-size:20.400px;line-height:22px;color:#3a3236;letter-spacing:0.550px;">Father</div>
<div class="t" style="left:473.10px;top:114.37px;font-size:20.400px;line-height:22px;color:#3a3236;letter-spacing:0.550px;">Me</div>
<div class="t" style="left:4.50px;top:165.79px;font-size:20.400px;line-height:22px;color:#3a3236;letter-spacing:0.550px;">Grandpa</div>
<div class="t" style="left:229.00px;top:165.79px;font-size:20.400px;line-height:22px;color:#3a3236;letter-spacing:0.550px;">Uncle Leo</div>
<div class="t" style="left:473.10px;top:165.79px;font-size:20.400px;line-height:22px;color:#3a3236;letter-spacing:0.550px;">Cousin Jack</div>
<div class="t" style="left:4.50px;top:217.21px;font-size:20.400px;line-height:22px;color:#3a3236;letter-spacing:0.550px;">Grandpa</div>
<div class="t" style="left:229.00px;top:217.21px;font-size:20.400px;line-height:22px;color:#3a3236;letter-spacing:0.550px;">Uncle Leo</div>
<div class="t" style="left:473.10px;top:217.21px;font-size:20.400px;line-height:22px;color:#3a3236;letter-spacing:0.550px;">Cousin Ben</div>
<div class="t" style="left:4.50px;top:268.63px;font-size:20.400px;line-height:22px;color:#3a3236;letter-spacing:0.550px;">Grandpa</div>
<div class="t" style="left:229.00px;top:268.63px;font-size:20.400px;line-height:22px;color:#3a3236;letter-spacing:0.550px;">Uncle Leo</div>
<div class="t" style="left:473.10px;top:268.63px;font-size:20.400px;line-height:22px;color:#3a3236;letter-spacing:0.550px;">Cousin Mary</div>
<div class="t" style="left:4.50px;top:320.05px;font-size:20.400px;line-height:22px;color:#3a3236;letter-spacing:0.550px;">Grandpa</div>
<div class="t" style="left:229.00px;top:320.05px;font-size:20.400px;line-height:22px;color:#3a3236;letter-spacing:0.550px;">Uncle Leo</div>
<div class="t" style="left:473.10px;top:320.05px;font-size:20.400px;line-height:22px;color:#3a3236;letter-spacing:0.550px;">Cousin Mary</div>
<div class="t" style="left:678.00px;top:320.05px;font-size:20.400px;line-height:22px;color:#3a3236;letter-spacing:0.550px;">Jackson</div>
<div class="t" style="left:4.50px;top:371.47px;font-size:20.400px;line-height:22px;color:#3a3236;letter-spacing:0.550px;">Nancy</div>
<div class="t" style="left:229.00px;top:371.47px;font-size:20.400px;line-height:22px;color:#3a3236;letter-spacing:0.550px;">Uncle Nike</div>
<div class="t" style="left:473.10px;top:371.47px;font-size:20.400px;line-height:22px;color:#3a3236;letter-spacing:0.550px;">Cousin Jenny</div>
<div class="t" style="left:4.50px;top:422.89px;font-size:20.400px;line-height:22px;color:#3a3236;letter-spacing:0.550px;">Nancy</div>
<div class="t" style="left:229.00px;top:422.89px;font-size:20.400px;line-height:22px;color:#3a3236;letter-spacing:0.550px;">Uncle Nike</div>
<div class="t" style="left:473.10px;top:422.89px;font-size:20.400px;line-height:22px;color:#3a3236;letter-spacing:0.550px;">Cousin Betty</div></div></div>
<div class="b " style="left:1212.00px;top:96.00px;width:1162.00px;height:1163.00px;background:#fff;"></div>
<div class="b " style="left:1212.00px;top:103.60px;width:1162.00px;height:1.20px;background:#f1f2f2;"></div>
<div class="b " style="left:1214.50px;top:62.00px;width:1165.00px;height:32.70px;background:#e3e4e6;border:1px solid #d4d5d7;border-radius:2px;"></div>
<div class="b " style="left:2338.50px;top:63.00px;width:1.00px;height:30.70px;background:#d2d3d5;"></div>
<svg class="b" style="left:1223px;top:70.500px" width="18" height="16" viewBox="0 0 18 16"><path d="M2.500 2v12.500H17" stroke="#b9a3f0" stroke-width="1" fill="none"/><path d="M1 4h1.500M1 6.500h1.500M1 9h1.500M1 11.500h1.500" stroke="#e9a0b0" stroke-width=".8"/><rect x="4.500" y="9" width="3" height="5.500" fill="#8a5cf6"/><rect x="4.500" y="12.500" width="3" height="2" fill="#e8364f"/><rect x="9" y="6.500" width="3" height="8" fill="#8a5cf6"/><rect x="9" y="11" width="3" height="3.500" fill="#e8364f"/><rect x="13.500" y="4.500" width="3" height="10" fill="#8a5cf6"/><rect x="13.500" y="13" width="3" height="1.500" fill="#e8364f"/><path d="M5.500 7.500 14.500 2" stroke="#a78bfa" stroke-width="1"/><circle cx="14.800" cy="1.800" r="1" fill="#a78bfa"/></svg>
<div class="t" style="left:1248.70px;top:69.00px;font-size:15px;line-height:17px;color:#24292e;letter-spacing:0.299px;-webkit-text-stroke:0.35px #24292e;">Business Charts</div>
<svg class="b" style="left:2313.70px;top:70.70px;" width="16" height="16" viewBox="0 0 24 24"><path fill="none" stroke="#34383d" stroke-width="2" stroke-linecap="round" stroke-linejoin="round" d="M7.8 9.9 L12 14.1 L16.2 9.9"/></svg>
<svg class="b" style="left:2347.35px;top:69.45px;" width="18.5" height="18.5" viewBox="0 0 24 24"><path fill="none" stroke="#34383d" stroke-width="2" stroke-linecap="round" stroke-linejoin="round" d="M9.9 7.8 L14.1 12 L9.9 16.2"/></svg>
<svg class="b" style="left:1220.10px;top:113.20px;" width="15" height="15" viewBox="0 0 24 24"><path fill="none" stroke="#5d6165" stroke-width="2" stroke-linecap="round" stroke-linejoin="round" d="M7.8 9.9 L12 14.1 L16.2 9.9"/></svg>
<div class="t" style="left:1244.90px;top:111.00px;font-size:15px;line-height:17px;color:#24292e;letter-spacing:0.289px;-webkit-text-stroke:0.35px #24292e;">Visual Editor</div>
<div class="t" style="left:1245.70px;top:146.00px;font-size:13px;line-height:15px;color:#24292e;letter-spacing:0.185px;-webkit-text-stroke:0.3px #24292e;">Dataset Items</div>
<div class="t" style="left:1245.70px;top:163.00px;font-size:13px;line-height:15px;color:#5d6165;letter-spacing:0.243px;">Fields which values will be used for the dataset.</div>
<div class="b " style="left:1245.10px;top:182.80px;width:1125.70px;height:33.00px;background:#f4f5f5;border-radius:3px;"></div>
<div class="t" style="left:1254.00px;top:190.00px;font-size:15px;line-height:17px;color:#5d6165;letter-spacing:0.273px;">A:Level 0</div>
<svg class="b" style="left:2319.10px;top:191.10px;" width="16" height="16" viewBox="0 0 24 24"><path fill="#34383d" d="M10,18a1,1,0,0,0,1-1V11a1,1,0,0,0-2,0v6A1,1,0,0,0,10,18ZM20,6H16V5a3,3,0,0,0-3-3H11A3,3,0,0,0,8,5V6H4A1,1,0,0,0,4,8H5V19a3,3,0,0,0,3,3h8a3,3,0,0,0,3-3V8h1a1,1,0,0,0,0-2ZM10,5a1,1,0,0,1,1-1h2a1,1,0,0,1,1,1V6H10Zm7,14a1,1,0,0,1-1,1H8a1,1,0,0,1-1-1V8H17Zm-3-1a1,1,0,0,0,1-1V11a1,1,0,0,0-2,0v6A1,1,0,0,0,14,18Z"/></svg>
<svg class="b" style="left:2345.20px;top:191.90px;" width="16.2" height="16.2" viewBox="0 0 24 24"><circle fill="#6f7377" cx="7.9" cy="4" r="2.1"/><circle fill="#6f7377" cx="7.9" cy="12" r="2.1"/><circle fill="#6f7377" cx="7.9" cy="20" r="2.1"/><circle fill="#6f7377" cx="16.1" cy="4" r="2.1"/><circle fill="#6f7377" cx="16.1" cy="12" r="2.1"/><circle fill="#6f7377" cx="16.1" cy="20" r="2.1"/></svg>
<div class="b " style="left:1245.10px;top:224.00px;width:1125.70px;height:33.00px;background:#f4f5f5;border-radius:3px;"></div>
<div class="t" style="left:1254.00px;top:231.00px;font-size:15px;line-height:17px;color:#5d6165;letter-spacing:-0.005px;">A:Level 1</div>
<svg class="b" style="left:2319.10px;top:232.30px;" width="16" height="16" viewBox="0 0 24 24"><path fill="#34383d" d="M10,18a1,1,0,0,0,1-1V11a1,1,0,0,0-2,0v6A1,1,0,0,0,10,18ZM20,6H16V5a3,3,0,0,0-3-3H11A3,3,0,0,0,8,5V6H4A1,1,0,0,0,4,8H5V19a3,3,0,0,0,3,3h8a3,3,0,0,0,3-3V8h1a1,1,0,0,0,0-2ZM10,5a1,1,0,0,1,1-1h2a1,1,0,0,1,1,1V6H10Zm7,14a1,1,0,0,1-1,1H8a1,1,0,0,1-1-1V8H17Zm-3-1a1,1,0,0,0,1-1V11a1,1,0,0,0-2,0v6A1,1,0,0,0,14,18Z"/></svg>
<svg class="b" style="left:2345.20px;top:233.10px;" width="16.2" height="16.2" viewBox="0 0 24 24"><circle fill="#6f7377" cx="7.9" cy="4" r="2.1"/><circle fill="#6f7377" cx="7.9" cy="12" r="2.1"/><circle fill="#6f7377" cx="7.9" cy="20" r="2.1"/><circle fill="#6f7377" cx="16.1" cy="4" r="2.1"/><circle fill="#6f7377" cx="16.1" cy="12" r="2.1"/><circle fill="#6f7377" cx="16.1" cy="20" r="2.1"/></svg>
<div class="b " style="left:1245.10px;top:265.20px;width:1125.70px;height:33.00px;background:#f4f5f5;border-radius:3px;"></div>
<div class="t" style="left:1254.00px;top:272.00px;font-size:15px;line-height:17px;color:#5d6165;letter-spacing:0.273px;">A:Level 2</div>
<svg class="b" style="left:2319.10px;top:273.50px;" width="16" height="16" viewBox="0 0 24 24"><path fill="#34383d" d="M10,18a1,1,0,0,0,1-1V11a1,1,0,0,0-2,0v6A1,1,0,0,0,10,18ZM20,6H16V5a3,3,0,0,0-3-3H11A3,3,0,0,0,8,5V6H4A1,1,0,0,0,4,8H5V19a3,3,0,0,0,3,3h8a3,3,0,0,0,3-3V8h1a1,1,0,0,0,0-2ZM10,5a1,1,0,0,1,1-1h2a1,1,0,0,1,1,1V6H10Zm7,14a1,1,0,0,1-1,1H8a1,1,0,0,1-1-1V8H17Zm-3-1a1,1,0,0,0,1-1V11a1,1,0,0,0-2,0v6A1,1,0,0,0,14,18Z"/></svg>
<svg class="b" style="left:2345.20px;top:274.30px;" width="16.2" height="16.2" viewBox="0 0 24 24"><circle fill="#6f7377" cx="7.9" cy="4" r="2.1"/><circle fill="#6f7377" cx="7.9" cy="12" r="2.1"/><circle fill="#6f7377" cx="7.9" cy="20" r="2.1"/><circle fill="#6f7377" cx="16.1" cy="4" r="2.1"/><circle fill="#6f7377" cx="16.1" cy="12" r="2.1"/><circle fill="#6f7377" cx="16.1" cy="20" r="2.1"/></svg>
<div class="b " style="left:1245.10px;top:306.40px;width:1125.70px;height:33.00px;background:#f4f5f5;border-radius:3px;"></div>
<div class="t" style="left:1254.00px;top:313.00px;font-size:15px;line-height:17px;color:#5d6165;letter-spacing:0.273px;">A:Level 3</div>
<svg class="b" style="left:2319.10px;top:314.70px;" width="16" height="16" viewBox="0 0 24 24"><path fill="#34383d" d="M10,18a1,1,0,0,0,1-1V11a1,1,0,0,0-2,0v6A1,1,0,0,0,10,18ZM20,6H16V5a3,3,0,0,0-3-3H11A3,3,0,0,0,8,5V6H4A1,1,0,0,0,4,8H5V19a3,3,0,0,0,3,3h8a3,3,0,0,0,3-3V8h1a1,1,0,0,0,0-2ZM10,5a1,1,0,0,1,1-1h2a1,1,0,0,1,1,1V6H10Zm7,14a1,1,0,0,1-1,1H8a1,1,0,0,1-1-1V8H17Zm-3-1a1,1,0,0,0,1-1V11a1,1,0,0,0-2,0v6A1,1,0,0,0,14,18Z"/></svg>
<svg class="b" style="left:2345.20px;top:315.50px;" width="16.2" height="16.2" viewBox="0 0 24 24"><circle fill="#6f7377" cx="7.9" cy="4" r="2.1"/><circle fill="#6f7377" cx="7.9" cy="12" r="2.1"/><circle fill="#6f7377" cx="7.9" cy="20" r="2.1"/><circle fill="#6f7377" cx="16.1" cy="4" r="2.1"/><circle fill="#6f7377" cx="16.1" cy="12" r="2.1"/><circle fill="#6f7377" cx="16.1" cy="20" r="2.1"/></svg>
<div class="b " style="left:1245.40px;top:348.00px;width:73.40px;height:32.50px;background:#f4f5f5;border-radius:2px;"></div>
<div class="t" style="left:1253.90px;top:357.00px;font-size:13px;line-height:15px;color:#24292e;letter-spacing:0.137px;-webkit-text-stroke:0.3px #24292e;">New Item</div>
<div class="b " style="left:1323.10px;top:348.00px;width:958.70px;height:32.50px;background:#fff;border:1px solid #cccdd0;border-radius:2px;"></div>
<div class="t" style="left:1334.50px;top:355.00px;font-size:15px;line-height:17px;color:#6c7074;letter-spacing:0.133px;">Choose</div>
<svg class="b" style="left:2256.00px;top:357.00px;" width="16" height="16" viewBox="0 0 24 24"><path fill="none" stroke="#5d6165" stroke-width="2" stroke-linecap="round" stroke-linejoin="round" d="M7.8 9.9 L12 14.1 L16.2 9.9"/></svg>
<div class="b " style="left:2285.40px;top:348.00px;width:85.40px;height:32.50px;background:#f4f5f5;border-radius:2px;"></div>
<svg class="b" style="left:2302.40px;top:357.10px;" width="15" height="15" viewBox="0 0 24 24"><path fill="none" stroke="#5d6165" stroke-width="1.6" stroke-linecap="round" stroke-linejoin="round" d="M12 5v14M5 12h14"/></svg>
<div class="t" style="left:2326.90px;top:355.00px;font-size:15px;line-height:17px;color:#5d6165;letter-spacing:0.236px;">Add</div>
<div class="t" style="left:1245.60px;top:401.00px;font-size:13px;line-height:15px;color:#24292e;letter-spacing:0.025px;-webkit-text-stroke:0.3px #24292e;">Series</div>
<div class="b " style="left:1245.30px;top:421.30px;width:1125.50px;height:584.20px;border:1px solid #eaebec;border-radius:2px;"></div>
<svg class="b" style="left:1254.80px;top:430.90px;" width="15" height="15" viewBox="0 0 24 24"><path fill="none" stroke="#5d6165" stroke-width="2" stroke-linecap="round" stroke-linejoin="round" d="M7.8 9.9 L12 14.1 L16.2 9.9"/></svg>
<div class="t" style="left:1279.40px;top:429.00px;font-size:15px;line-height:17px;color:#24292e;letter-spacing:0.496px;-webkit-text-stroke:0.3px #24292e;">Sunburst [Sunburst]</div>
<svg class="b" style="left:2322.90px;top:431.20px;" width="14" height="14" viewBox="0 0 24 24"><path fill="#5d6165" d="M10,18a1,1,0,0,0,1-1V11a1,1,0,0,0-2,0v6A1,1,0,0,0,10,18ZM20,6H16V5a3,3,0,0,0-3-3H11A3,3,0,0,0,8,5V6H4A1,1,0,0,0,4,8H5V19a3,3,0,0,0,3,3h8a3,3,0,0,0,3-3V8h1a1,1,0,0,0,0-2ZM10,5a1,1,0,0,1,1-1h2a1,1,0,0,1,1,1V6H10Zm7,14a1,1,0,0,1-1,1H8a1,1,0,0,1-1-1V8H17Zm-3-1a1,1,0,0,0,1-1V11a1,1,0,0,0-2,0v6A1,1,0,0,0,14,18Z"/></svg>
<svg class="b" style="left:2346.70px;top:431.80px;" width="14" height="14" viewBox="0 0 24 24"><circle fill="#6f7377" cx="7.9" cy="4" r="2.1"/><circle fill="#6f7377" cx="7.9" cy="12" r="2.1"/><circle fill="#6f7377" cx="7.9" cy="20" r="2.1"/><circle fill="#6f7377" cx="16.1" cy="4" r="2.1"/><circle fill="#6f7377" cx="16.1" cy="12" r="2.1"/><circle fill="#6f7377" cx="16.1" cy="20" r="2.1"/></svg>
<div class="b " style="left:1250.20px;top:459.20px;width:82.60px;height:32.40px;background:#f4f5f5;border-radius:2px;"></div>
<div class="t" style="left:1258.40px;top:468.00px;font-size:13px;line-height:15px;color:#24292e;letter-spacing:-0.750px;-webkit-text-stroke:0.3px #24292e;">ID</div>
<div class="b " style="left:1336.30px;top:459.20px;width:525.20px;height:32.40px;background:#fff;border:1px solid #cccdd0;border-radius:2px;"></div>
<div class="t" style="left:1346.10px;top:466.00px;font-size:15px;line-height:17px;color:#24292e;letter-spacing:0.120px;">Sunburst</div>
<div class="b " style="left:1865.40px;top:459.20px;width:82.50px;height:32.40px;background:#f4f5f5;border-radius:2px;"></div>
<div class="t" style="left:1873.60px;top:468.00px;font-size:13px;line-height:15px;color:#24292e;letter-spacing:-0.046px;-webkit-text-stroke:0.3px #24292e;">Type</div>
<div class="b " style="left:1952.20px;top:459.20px;width:410.10px;height:32.40px;background:#fff;border:1px solid #cccdd0;border-radius:2px;"></div>
<div class="t" style="left:1962.00px;top:466.00px;font-size:15px;line-height:17px;color:#24292e;letter-spacing:0.120px;">Sunburst</div>
<svg class="b" style="left:2336.90px;top:467.80px;" width="16" height="16" viewBox="0 0 24 24"><path fill="none" stroke="#5d6165" stroke-width="2" stroke-linecap="round" stroke-linejoin="round" d="M7.8 9.9 L12 14.1 L16.2 9.9"/></svg>
<div class="b " style="left:1250.20px;top:496.30px;width:82.60px;height:32.40px;background:#f4f5f5;border-radius:2px;"></div>
<div class="t" style="left:1258.40px;top:505.00px;font-size:13px;line-height:15px;color:#24292e;letter-spacing:-0.070px;-webkit-text-stroke:0.3px #24292e;">Name</div>
<div class="b " style="left:1336.30px;top:496.30px;width:1026.00px;height:32.40px;background:#fff;border:1px solid #cccdd0;border-radius:2px;"></div>
<div class="t" style="left:1346.10px;top:504.00px;font-size:15px;line-height:17px;color:#24292e;letter-spacing:0.120px;">Sunburst</div>
<div class="b " style="left:1250.20px;top:533.20px;width:109.20px;height:32.40px;background:#f4f5f5;border-radius:2px;"></div>
<div class="t" style="left:1258.40px;top:542.00px;font-size:13px;line-height:15px;color:#24292e;letter-spacing:0.066px;-webkit-text-stroke:0.3px #24292e;">Level value</div>
<svg class="b" style="left:1336.80px;top:542.90px;" width="14" height="14" viewBox="0 0 24 24"><circle fill="none" stroke="#5d6165" stroke-width="2" stroke-linecap="round" stroke-linejoin="round" cx="12" cy="12" r="9"/><path fill="none" stroke="#5d6165" stroke-width="2" stroke-linecap="round" stroke-linejoin="round" d="M12 11.500v4.500"/><circle fill="#5d6165" cx="12" cy="8" r="1.200"/></svg>
<div class="b " style="left:1363.20px;top:533.20px;width:999.10px;height:32.40px;background:#fff;border:1px solid #cccdd0;border-radius:2px;"></div>
<div class="t" style="left:1373.00px;top:540.00px;font-size:15px;line-height:17px;color:#24292e;">1</div>
<div class="b " style="left:1250.20px;top:587.10px;width:1116.10px;height:32.50px;background:#f4f5f5;border-radius:3px;"></div>
<div class="t" style="left:1258.70px;top:594.00px;font-size:15px;line-height:17px;color:#5d6165;letter-spacing:0.376px;">Level 0</div>
<svg class="b" style="left:2315.20px;top:595.30px;" width="16" height="16" viewBox="0 0 24 24"><path fill="#34383d" d="M10,18a1,1,0,0,0,1-1V11a1,1,0,0,0-2,0v6A1,1,0,0,0,10,18ZM20,6H16V5a3,3,0,0,0-3-3H11A3,3,0,0,0,8,5V6H4A1,1,0,0,0,4,8H5V19a3,3,0,0,0,3,3h8a3,3,0,0,0,3-3V8h1a1,1,0,0,0,0-2ZM10,5a1,1,0,0,1,1-1h2a1,1,0,0,1,1,1V6H10Zm7,14a1,1,0,0,1-1,1H8a1,1,0,0,1-1-1V8H17Zm-3-1a1,1,0,0,0,1-1V11a1,1,0,0,0-2,0v6A1,1,0,0,0,14,18Z"/></svg>
<svg class="b" style="left:2340.30px;top:596.10px;" width="16.2" height="16.2" viewBox="0 0 24 24"><circle fill="#6f7377" cx="7.9" cy="4" r="2.1"/><circle fill="#6f7377" cx="7.9" cy="12" r="2.1"/><circle fill="#6f7377" cx="7.9" cy="20" r="2.1"/><circle fill="#6f7377" cx="16.1" cy="4" r="2.1"/><circle fill="#6f7377" cx="16.1" cy="12" r="2.1"/><circle fill="#6f7377" cx="16.1" cy="20" r="2.1"/></svg>
<div class="b " style="left:1254.35px;top:628.53px;width:1111.95px;height:32.50px;background:#f4f5f5;border-radius:3px;"></div>
<div class="t" style="left:1262.85px;top:635.00px;font-size:15px;line-height:17px;color:#5d6165;letter-spacing:0.019px;">Level 1</div>
<svg class="b" style="left:2315.20px;top:636.73px;" width="16" height="16" viewBox="0 0 24 24"><path fill="#34383d" d="M10,18a1,1,0,0,0,1-1V11a1,1,0,0,0-2,0v6A1,1,0,0,0,10,18ZM20,6H16V5a3,3,0,0,0-3-3H11A3,3,0,0,0,8,5V6H4A1,1,0,0,0,4,8H5V19a3,3,0,0,0,3,3h8a3,3,0,0,0,3-3V8h1a1,1,0,0,0,0-2ZM10,5a1,1,0,0,1,1-1h2a1,1,0,0,1,1,1V6H10Zm7,14a1,1,0,0,1-1,1H8a1,1,0,0,1-1-1V8H17Zm-3-1a1,1,0,0,0,1-1V11a1,1,0,0,0-2,0v6A1,1,0,0,0,14,18Z"/></svg>
<svg class="b" style="left:2340.30px;top:637.53px;" width="16.2" height="16.2" viewBox="0 0 24 24"><circle fill="#6f7377" cx="7.9" cy="4" r="2.1"/><circle fill="#6f7377" cx="7.9" cy="12" r="2.1"/><circle fill="#6f7377" cx="7.9" cy="20" r="2.1"/><circle fill="#6f7377" cx="16.1" cy="4" r="2.1"/><circle fill="#6f7377" cx="16.1" cy="12" r="2.1"/><circle fill="#6f7377" cx="16.1" cy="20" r="2.1"/></svg>
<div class="b " style="left:1258.50px;top:669.96px;width:1107.80px;height:32.50px;background:#f4f5f5;border-radius:3px;"></div>
<div class="t" style="left:1267.00px;top:677.00px;font-size:15px;line-height:17px;color:#5d6165;letter-spacing:0.376px;">Level 2</div>
<svg class="b" style="left:2315.20px;top:678.16px;" width="16" height="16" viewBox="0 0 24 24"><path fill="#34383d" d="M10,18a1,1,0,0,0,1-1V11a1,1,0,0,0-2,0v6A1,1,0,0,0,10,18ZM20,6H16V5a3,3,0,0,0-3-3H11A3,3,0,0,0,8,5V6H4A1,1,0,0,0,4,8H5V19a3,3,0,0,0,3,3h8a3,3,0,0,0,3-3V8h1a1,1,0,0,0,0-2ZM10,5a1,1,0,0,1,1-1h2a1,1,0,0,1,1,1V6H10Zm7,14a1,1,0,0,1-1,1H8a1,1,0,0,1-1-1V8H17Zm-3-1a1,1,0,0,0,1-1V11a1,1,0,0,0-2,0v6A1,1,0,0,0,14,18Z"/></svg>
<svg class="b" style="left:2340.30px;top:678.96px;" width="16.2" height="16.2" viewBox="0 0 24 24"><circle fill="#6f7377" cx="7.9" cy="4" r="2.1"/><circle fill="#6f7377" cx="7.9" cy="12" r="2.1"/><circle fill="#6f7377" cx="7.9" cy="20" r="2.1"/><circle fill="#6f7377" cx="16.1" cy="4" r="2.1"/><circle fill="#6f7377" cx="16.1" cy="12" r="2.1"/><circle fill="#6f7377" cx="16.1" cy="20" r="2.1"/></svg>
<div class="b " style="left:1262.65px;top:711.39px;width:1103.65px;height:32.50px;background:#f4f5f5;border-radius:3px;"></div>
<div class="t" style="left:1271.15px;top:718.00px;font-size:15px;line-height:17px;color:#5d6165;letter-spacing:0.376px;">Level 3</div>
<svg class="b" style="left:2315.20px;top:719.59px;" width="16" height="16" viewBox="0 0 24 24"><path fill="#34383d" d="M10,18a1,1,0,0,0,1-1V11a1,1,0,0,0-2,0v6A1,1,0,0,0,10,18ZM20,6H16V5a3,3,0,0,0-3-3H11A3,3,0,0,0,8,5V6H4A1,1,0,0,0,4,8H5V19a3,3,0,0,0,3,3h8a3,3,0,0,0,3-3V8h1a1,1,0,0,0,0-2ZM10,5a1,1,0,0,1,1-1h2a1,1,0,0,1,1,1V6H10Zm7,14a1,1,0,0,1-1,1H8a1,1,0,0,1-1-1V8H17Zm-3-1a1,1,0,0,0,1-1V11a1,1,0,0,0-2,0v6A1,1,0,0,0,14,18Z"/></svg>
<svg class="b" style="left:2340.30px;top:720.39px;" width="16.2" height="16.2" viewBox="0 0 24 24"><circle fill="#6f7377" cx="7.9" cy="4" r="2.1"/><circle fill="#6f7377" cx="7.9" cy="12" r="2.1"/><circle fill="#6f7377" cx="7.9" cy="20" r="2.1"/><circle fill="#6f7377" cx="16.1" cy="4" r="2.1"/><circle fill="#6f7377" cx="16.1" cy="12" r="2.1"/><circle fill="#6f7377" cx="16.1" cy="20" r="2.1"/></svg>
<div class="b " style="left:1250.20px;top:760.40px;width:78.70px;height:32.40px;background:#f4f5f5;border-radius:2px;"></div>
<div class="t" style="left:1258.40px;top:769.00px;font-size:13px;line-height:15px;color:#24292e;letter-spacing:0.200px;-webkit-text-stroke:0.3px #24292e;">New Level</div>
<div class="b " style="left:1333.20px;top:760.40px;width:943.60px;height:32.50px;background:#fff;border:1px solid #cccdd0;border-radius:2px;"></div>
<div class="t" style="left:1344.80px;top:768.00px;font-size:15px;line-height:17px;color:#6c7074;letter-spacing:0.133px;">Choose</div>
<svg class="b" style="left:2250.60px;top:769.40px;" width="16" height="16" viewBox="0 0 24 24"><path fill="none" stroke="#5d6165" stroke-width="2" stroke-linecap="round" stroke-linejoin="round" d="M7.8 9.9 L12 14.1 L16.2 9.9"/></svg>
<div class="b " style="left:2281.00px;top:760.40px;width:85.40px;height:32.50px;background:#f4f5f5;border-radius:2px;"></div>
<svg class="b" style="left:2297.70px;top:769.50px;" width="15" height="15" viewBox="0 0 24 24"><path fill="none" stroke="#5d6165" stroke-width="1.6" stroke-linecap="round" stroke-linejoin="round" d="M12 5v14M5 12h14"/></svg>
<div class="t" style="left:2322.20px;top:768.00px;font-size:15px;line-height:17px;color:#5d6165;letter-spacing:0.236px;">Add</div>
<div class="b " style="left:1250.20px;top:814.30px;width:91.80px;height:32.40px;background:#f4f5f5;border-radius:2px;"></div>
<div class="t" style="left:1258.40px;top:823.00px;font-size:13px;line-height:15px;color:#24292e;letter-spacing:0.066px;-webkit-text-stroke:0.3px #24292e;">Inner Radius</div>
<div class="b " style="left:1346.20px;top:814.40px;width:456.20px;height:32.40px;background:#fff;border:1px solid #cccdd0;border-radius:2px;"></div>
<div class="t" style="left:1355.50px;top:822.00px;font-size:15px;line-height:17px;color:#24292e;">0</div>
<div class="b " style="left:1807.20px;top:814.30px;width:94.10px;height:32.40px;background:#f4f5f5;border-radius:2px;"></div>
<div class="t" style="left:1815.40px;top:823.00px;font-size:13px;line-height:15px;color:#24292e;letter-spacing:0.026px;-webkit-text-stroke:0.3px #24292e;">Outer Radius</div>
<div class="b " style="left:1905.50px;top:814.40px;width:456.80px;height:32.40px;background:#fff;border:1px solid #cccdd0;border-radius:2px;"></div>
<div class="t" style="left:1915.00px;top:822.00px;font-size:15px;line-height:17px;color:#24292e;letter-spacing:-0.716px;">100%</div>
<div class="b " style="left:1250.20px;top:851.30px;width:165.00px;height:32.40px;background:#f4f5f5;border-radius:2px;"></div>
<div class="t" style="left:1258.40px;top:860.00px;font-size:13px;line-height:15px;color:#24292e;letter-spacing:0.309px;-webkit-text-stroke:0.3px #24292e;">Sunburst Sort</div>
<div class="b " style="left:1419.10px;top:851.30px;width:224.60px;height:32.00px;background:#fff;border:1px solid #cccdd0;border-radius:2px;"></div>
<div class="b " style="left:1422.80px;top:854.20px;width:73.00px;height:26.20px;background:#ecedef;border-radius:2px;"></div>
<div class="t" style="left:1438.90px;top:858.00px;font-size:15px;line-height:17px;color:#33373c;letter-spacing:0.236px;-webkit-text-stroke:0.25px #33373c;">A to Z</div>
<div class="t" style="left:1513.90px;top:858.00px;font-size:15px;line-height:17px;color:#5d6165;letter-spacing:0.152px;">Z to A</div>
<div class="t" style="left:1588.30px;top:858.00px;font-size:15px;line-height:17px;color:#5d6165;letter-spacing:-0.015px;">None</div>
<div class="b " style="left:1250.20px;top:888.50px;width:165.00px;height:32.40px;background:#f4f5f5;border-radius:2px;"></div>
<div class="t" style="left:1258.40px;top:897.00px;font-size:13px;line-height:15px;color:#24292e;letter-spacing:0.100px;-webkit-text-stroke:0.3px #24292e;">Emphasis Focus</div>
<div class="b " style="left:1419.10px;top:888.50px;width:433.40px;height:32.00px;background:#fff;border:1px solid #cccdd0;border-radius:2px;"></div>
<div class="t" style="left:1438.90px;top:896.00px;font-size:15px;line-height:17px;color:#5d6165;letter-spacing:0.363px;">Ancestor</div>
<div class="t" style="left:1534.90px;top:896.00px;font-size:15px;line-height:17px;color:#5d6165;letter-spacing:0.213px;">Descendants</div>
<div class="t" style="left:1659.00px;top:896.00px;font-size:15px;line-height:17px;color:#5d6165;letter-spacing:0.060px;">None</div>
<div class="t" style="left:1729.60px;top:896.00px;font-size:15px;line-height:17px;color:#5d6165;letter-spacing:-0.112px;">Self</div>
<div class="b " style="left:1773.40px;top:891.40px;width:75.80px;height:26.20px;background:#ecedef;border-radius:2px;"></div>
<div class="t" style="left:1789.50px;top:896.00px;font-size:15px;line-height:17px;color:#33373c;letter-spacing:0.147px;-webkit-text-stroke:0.25px #33373c;">Series</div>
<div class="b " style="left:1250.20px;top:925.60px;width:165.00px;height:32.40px;background:#f4f5f5;border-radius:2px;"></div>
<div class="t" style="left:1258.40px;top:934.00px;font-size:13px;line-height:15px;color:#24292e;letter-spacing:0.240px;-webkit-text-stroke:0.3px #24292e;">Show label</div>
<div class="b " style="left:1419.10px;top:925.60px;width:140.40px;height:32.00px;background:#fff;border:1px solid #cccdd0;border-radius:2px;"></div>
<div class="b " style="left:1422.80px;top:928.50px;width:63.60px;height:26.20px;background:#ecedef;border-radius:2px;"></div>
<div class="t" style="left:1438.90px;top:933.00px;font-size:15px;line-height:17px;color:#33373c;letter-spacing:0.228px;-webkit-text-stroke:0.25px #33373c;">True</div>
<div class="t" style="left:1504.00px;top:933.00px;font-size:15px;line-height:17px;color:#5d6165;letter-spacing:-0.156px;">False</div>
<div class="b " style="left:1250.20px;top:963.60px;width:165.00px;height:32.40px;background:#f4f5f5;border-radius:2px;"></div>
<div class="t" style="left:1258.40px;top:972.00px;font-size:13px;line-height:15px;color:#24292e;letter-spacing:0.236px;-webkit-text-stroke:0.3px #24292e;">Label rotate</div>
<div class="b " style="left:1419.10px;top:963.60px;width:187.30px;height:32.00px;background:#fff;border:1px solid #cccdd0;border-radius:2px;"></div>
<div class="t" style="left:1438.90px;top:971.00px;font-size:15px;line-height:17px;color:#5d6165;letter-spacing:-0.171px;">Radial</div>
<div class="b " style="left:1498.50px;top:966.50px;width:104.60px;height:26.20px;background:#ecedef;border-radius:2px;"></div>
<div class="t" style="left:1514.60px;top:971.00px;font-size:15px;line-height:17px;color:#33373c;letter-spacing:0.381px;-webkit-text-stroke:0.25px #33373c;">Tangential</div>
<div class="b " style="left:1245.20px;top:1014.20px;width:85.70px;height:32.50px;background:#f4f5f5;border-radius:2px;"></div>
<div class="t" style="left:1253.90px;top:1022.00px;font-size:13px;line-height:15px;color:#24292e;letter-spacing:0.203px;-webkit-text-stroke:0.3px #24292e;">New Series</div>
<div class="b " style="left:1335.50px;top:1014.20px;width:946.30px;height:32.50px;background:#fff;border:1px solid #cccdd0;border-radius:2px;"></div>
<div class="t" style="left:1344.10px;top:1021.00px;font-size:15px;line-height:17px;color:#8e9194;letter-spacing:0.087px;">Unique Id</div>
<div class="b " style="left:2285.40px;top:1014.20px;width:85.40px;height:32.50px;background:#f4f5f5;border-radius:2px;"></div>
<svg class="b" style="left:2302.40px;top:1023.30px;" width="15" height="15" viewBox="0 0 24 24"><path fill="none" stroke="#5d6165" stroke-width="1.6" stroke-linecap="round" stroke-linejoin="round" d="M12 5v14M5 12h14"/></svg>
<div class="t" style="left:2326.90px;top:1021.00px;font-size:15px;line-height:17px;color:#5d6165;letter-spacing:0.236px;">Add</div>
<div class="t" style="left:1245.60px;top:1067.00px;font-size:13px;line-height:15px;color:#24292e;letter-spacing:0.267px;-webkit-text-stroke:0.3px #24292e;">Function</div>
<div class="t" style="left:1245.60px;top:1085.00px;font-size:13px;line-height:15px;color:#5d6165;letter-spacing:0.251px;">Should return parameters and data for setOption() or an extended result object.</div>
<div class="b " style="left:1245.20px;top:1104.40px;width:1125.40px;height:46.40px;background:#f4f5f5;border:1px solid #d5d6d8;"></div>
<svg class="b" style="left:1259.80px;top:1118.90px;" width="17" height="17" viewBox="0 0 24 24"><path fill="none" stroke="#3c4045" stroke-width="1.7" stroke-linecap="round" stroke-linejoin="round" d="M3.500 8.500v-5h5M3.500 3.500 10 10M20.500 8.500v-5h-5M20.500 3.500 14 10M3.500 15.500v5h5M3.500 20.500 10 14M20.500 15.500v5h-5M20.500 20.500 14 14"/></svg>
<svg class="b" style="left:2203.25px;top:1121.05px;" width="17.5" height="17.5" viewBox="0 0 24 24"><path fill="none" stroke="#3c4045" stroke-width="1.7" stroke-linecap="round" stroke-linejoin="round" d="M13.500 3h-6a2.500 2.500 0 0 0-2.500 2.500v13a2.500 2.500 0 0 0 2.500 2.500h9a2.500 2.500 0 0 0 2.500-2.500V8.500Z"/><path fill="none" stroke="#3c4045" stroke-width="1.7" stroke-linecap="round" stroke-linejoin="round" d="M13.500 3v3.500a2 2 0 0 0 2 2h3.500"/></svg>
<svg class="b" style="left:2239.45px;top:1121.05px;" width="17.5" height="17.5" viewBox="0 0 24 24"><path fill="none" stroke="#3c4045" stroke-width="1.7" stroke-linecap="round" stroke-linejoin="round" d="M13.500 3h-6a2.500 2.500 0 0 0-2.500 2.500v13a2.500 2.500 0 0 0 2.500 2.500h9a2.500 2.500 0 0 0 2.500-2.500V8.500Z"/><path fill="none" stroke="#3c4045" stroke-width="1.7" stroke-linecap="round" stroke-linejoin="round" d="M13.500 3v3.500a2 2 0 0 0 2 2h3.500M8.500 13h7M8.500 17h7M8.500 9h2"/></svg>
<svg class="b" style="left:2294.65px;top:1118.25px;" width="17.5" height="17.5" viewBox="0 0 24 24"><path fill="none" stroke="#3c4045" stroke-width="1.7" stroke-linecap="round" stroke-linejoin="round" d="M3 6h18M3 12h15.500a3 3 0 0 1 0 6H14M3 18h6"/><path fill="none" stroke="#3c4045" stroke-width="1.7" stroke-linecap="round" stroke-linejoin="round" d="M15.500 15.700 13.200 18l2.300 2.300"/></svg>
<svg class="b" style="left:2339.05px;top:1118.75px;" width="17.5" height="17.5" viewBox="0 0 24 24"><rect fill="none" stroke="#3c4045" stroke-width="1.7" stroke-linecap="round" stroke-linejoin="round" x="3" y="3.500" width="18" height="17" rx="1"/><path fill="none" stroke="#3c4045" stroke-width="1.7" stroke-linecap="round" stroke-linejoin="round" d="M15.500 3.500v17M7.500 8.500 11 12l-3.500 3.500"/></svg>
<div class="b " style="left:1245.20px;top:1150.70px;width:1125.40px;height:120.00px;background:#fff;border:1px solid #d5d6d8;border-top:none;"></div>
<div class="t" style="left:1270.05px;top:1158.00px;font-size:13.2px;line-height:15px;color:#237893;font-family:'DejaVu Sans Mono','Liberation Mono',monospace;">1</div>
<div class="t" style="left:1270.05px;top:1177.00px;font-size:13.2px;line-height:15px;color:#237893;font-family:'DejaVu Sans Mono','Liberation Mono',monospace;">2</div>
<div class="t" style="left:1270.05px;top:1197.00px;font-size:13.2px;line-height:15px;color:#237893;font-family:'DejaVu Sans Mono','Liberation Mono',monospace;">3</div>
<div class="t" style="left:1270.05px;top:1216.00px;font-size:13.2px;line-height:15px;color:#237893;font-family:'DejaVu Sans Mono','Liberation Mono',monospace;">4</div>
<div class="t" style="left:1270.05px;top:1235.00px;font-size:13.2px;line-height:15px;color:#237893;font-family:'DejaVu Sans Mono','Liberation Mono',monospace;">5</div>
<div class="t" style="left:1303.30px;top:1158.00px;font-size:13.2px;line-height:15px;color:#0000ff;letter-spacing:0.023px;font-family:'DejaVu Sans Mono','Liberation Mono',monospace;">return</div>
<div class="t" style="left:1359.09px;top:1158.00px;font-size:13.2px;line-height:15px;color:#000;font-family:'DejaVu Sans Mono','Liberation Mono',monospace;">{</div>
<div class="t" style="left:1319.24px;top:1177.00px;font-size:13.2px;line-height:15px;color:#000;letter-spacing:0.023px;font-family:'DejaVu Sans Mono','Liberation Mono',monospace;">dataset: context.editor.dataset,</div>
<div class="t" style="left:1319.24px;top:1197.00px;font-size:13.2px;line-height:15px;color:#000;letter-spacing:0.023px;font-family:'DejaVu Sans Mono','Liberation Mono',monospace;">series: context.editor.series,</div>
<div class="t" style="left:1303.30px;top:1216.00px;font-size:13.2px;line-height:15px;color:#000;font-family:'DejaVu Sans Mono','Liberation Mono',monospace;">}</div>
<div class="b " style="left:1303.30px;top:1174.50px;width:1.00px;height:38.60px;background:#d3d3d3;"></div>
<div class="b " style="left:1302.00px;top:1253.00px;width:1040.00px;height:1.60px;background:#e8e8e8;"></div>
<div class="b " style="left:1303.00px;top:1253.50px;width:1.60px;height:8.00px;background:#000;"></div>
<div class="b " style="left:2355.60px;top:1251.80px;width:13.60px;height:1.80px;background:#3c3c3c;"></div>
<div class="b " style="left:1239.00px;top:138.00px;width:1140.00px;height:207.00px;background:rgba(255,0,0,0.075);"></div>
<div class="b " style="left:1239.00px;top:459.00px;width:625.00px;height:39.00px;background:rgba(255,0,0,0.075);"></div>
<div class="b " style="left:1239.00px;top:498.00px;width:1128.00px;height:259.50px;background:rgba(255,0,0,0.075);"></div>
<div class="b " style="left:1873.10px;top:459.20px;width:489.20px;height:31.80px;background:rgba(255,0,0,0.075);"></div>
<div class="b " style="left:1251.80px;top:820.00px;width:1110.50px;height:184.00px;background:rgba(255,0,0,0.075);"></div>
<div class="b " style="left:1259.80px;top:1152.30px;width:772.30px;height:110.00px;background:rgba(255,0,0,0.075);"></div>
<svg class="b" style="left:0;top:0;filter:blur(2px)" width="2374" height="1259"><polygon points="1713.3,99.0 1687.6,135.2 1691.2,137.8 1718.7,103.0" fill="rgba(124,92,208,.20)"/></svg>
<div class="b" style="left:1567.8px;top:19px;width:305.4000000000001px;height:82.9px;background:#fff;box-shadow:0 0 13px 4px rgba(124,92,208,.30);"></div>
<svg class="b" style="left:0;top:0" width="2374" height="1259" font-family="Liberation Sans, sans-serif" font-size="33.500" fill="#7a55c7" stroke="#7a55c7" stroke-width="0.700"><text x="1595.4" y="51.6" font-weight="400" textLength="261.6" lengthAdjust="spacingAndGlyphs">2.Dataframe columns</text><text x="1581.0" y="91.4" font-weight="400" textLength="289.6" lengthAdjust="spacingAndGlyphs">to build the chart upon</text></svg>
<svg class="b" style="left:0;top:0;filter:blur(2px)" width="2374" height="1259"><polygon points="1642.9,421.1 1436.8,456.0 1437.6,460.4 1643.9,427.9" fill="rgba(124,92,208,.20)"/></svg>
<div class="b" style="left:1464.9px;top:370.8px;width:399.29999999999995px;height:54.0px;background:#fff;box-shadow:0 0 13px 4px rgba(124,92,208,.30);"></div>
<svg class="b" style="left:0;top:0" width="2374" height="1259" font-family="Liberation Sans, sans-serif" font-size="33.500" fill="#7a55c7" stroke="#7a55c7" stroke-width="0.700"><text x="1473.0" y="410.0" font-weight="400" textLength="108.7" lengthAdjust="spacingAndGlyphs">4.a.Chart</text><text x="1589.8" y="410.0" font-weight="700" textLength="61.7" lengthAdjust="spacingAndGlyphs">Type</text><text x="1660.6" y="410.0" font-weight="400" textLength="194.5" lengthAdjust="spacingAndGlyphs">specific options</text></svg>
<svg class="b" style="left:0;top:0;filter:blur(2px)" width="2374" height="1259"><polygon points="2045.3,434.0 2102.7,461.4 2104.7,457.4 2048.3,428.0" fill="rgba(124,92,208,.20)"/></svg>
<div class="b" style="left:1958.9px;top:377.9px;width:183.29999999999973px;height:53.0px;background:#fff;box-shadow:0 0 13px 4px rgba(124,92,208,.30);"></div>
<svg class="b" style="left:0;top:0" width="2374" height="1259" font-family="Liberation Sans, sans-serif" font-size="33.500" fill="#7a55c7" stroke="#7a55c7" stroke-width="0.700"><text x="1979.5" y="415.9" font-weight="400" textLength="86.6" lengthAdjust="spacingAndGlyphs">3.Chart</text><text x="2075.1" y="415.9" font-weight="700" textLength="61.5" lengthAdjust="spacingAndGlyphs">Type</text></svg>
<svg class="b" style="left:0;top:0;filter:blur(2px)" width="2374" height="1259"><polygon points="1759.2,795.7 1644.5,817.9 1645.3,822.3 1760.4,802.3" fill="rgba(124,92,208,.20)"/></svg>
<div class="b" style="left:1564.1px;top:746.4px;width:470.0px;height:52.5px;background:#fff;box-shadow:0 0 13px 4px rgba(124,92,208,.30);"></div>
<svg class="b" style="left:0;top:0" width="2374" height="1259" font-family="Liberation Sans, sans-serif" font-size="33.500" fill="#7a55c7" stroke="#7a55c7" stroke-width="0.700"><text x="1571.6" y="783.7" font-weight="400" textLength="180.2" lengthAdjust="spacingAndGlyphs">4.b.More chart</text><text x="1760.9" y="783.7" font-weight="700" textLength="61.0" lengthAdjust="spacingAndGlyphs">Type</text><text x="1832.5" y="783.7" font-weight="400" textLength="193.4" lengthAdjust="spacingAndGlyphs">specific options</text></svg>
<svg class="b" style="left:0;top:0;filter:blur(2px)" width="2374" height="1259"><polygon points="2068.8,1207.7 2032.6,1199.9 2031.6,1204.1 2067.2,1214.3" fill="rgba(124,92,208,.20)"/></svg>
<div class="b" style="left:2067px;top:1161.3px;width:270.9000000000001px;height:78.29999999999995px;background:#fff;box-shadow:0 0 13px 4px rgba(124,92,208,.30);"></div>
<svg class="b" style="left:0;top:0" width="2374" height="1259" font-family="Liberation Sans, sans-serif" font-size="33.500" fill="#7a55c7" stroke="#7a55c7" stroke-width="0.700"><text x="2083.9" y="1191.6" font-weight="400" textLength="241.4" lengthAdjust="spacingAndGlyphs">5.JavaScript for the</text><text x="2108.8" y="1232.0" font-weight="400" textLength="191.6" lengthAdjust="spacingAndGlyphs">Charts function</text></svg>
<svg class="b" style="left:0;top:0;filter:blur(2px)" width="2374" height="1259"><polygon points="870.4,687.0 794.0,729.1 796.0,732.9 873.6,693.0" fill="rgba(124,92,208,.20)"/></svg>
<div class="b" style="left:778.5px;top:642px;width:182.0px;height:48px;background:#fff;box-shadow:0 0 13px 4px rgba(124,92,208,.30);"></div>
<svg class="b" style="left:0;top:0" width="2374" height="1259" font-family="Liberation Sans, sans-serif" font-size="33.500" fill="#7a55c7" stroke="#7a55c7" stroke-width="0.700"><text x="786.5" y="678.0" font-weight="400" textLength="154.5" lengthAdjust="spacingAndGlyphs">1.Data frame</text></svg></body></html>
